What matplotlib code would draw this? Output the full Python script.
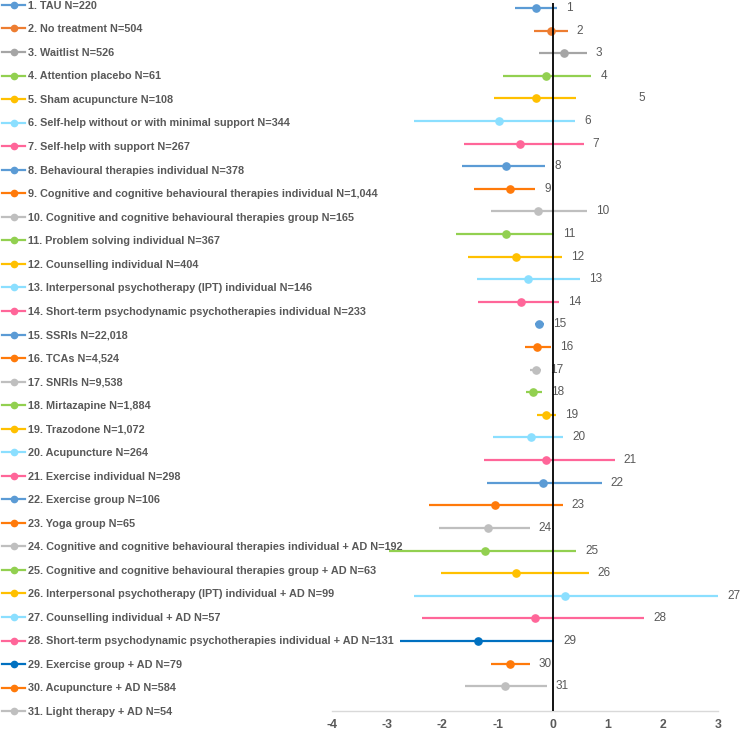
"""Forest plot: effect sizes with 95% intervals per treatment arm."""

import matplotlib
matplotlib.use("Agg")
import matplotlib.pyplot as plt
from matplotlib.lines import Line2D

plt.rcParams["font.family"] = ["Liberation Sans", "DejaVu Sans"]

labels = [
    "1. TAU N=220",
    "2. No treatment N=504",
    "3. Waitlist N=526",
    "4. Attention placebo N=61",
    "5. Sham acupuncture N=108",
    "6. Self-help without or with minimal support N=344",
    "7. Self-help with support N=267",
    "8. Behavioural therapies individual N=378",
    "9. Cognitive and cognitive behavioural therapies individual N=1,044",
    "10. Cognitive and cognitive behavioural therapies group N=165",
    "11. Problem solving individual N=367",
    "12. Counselling individual N=404",
    "13. Interpersonal psychotherapy (IPT) individual N=146",
    "14. Short-term psychodynamic psychotherapies individual N=233",
    "15. SSRIs N=22,018",
    "16. TCAs N=4,524",
    "17. SNRIs N=9,538",
    "18. Mirtazapine N=1,884",
    "19. Trazodone N=1,072",
    "20. Acupuncture N=264",
    "21. Exercise individual N=298",
    "22. Exercise group N=106",
    "23. Yoga group N=65",
    "24. Cognitive and cognitive behavioural therapies individual + AD N=192",
    "25. Cognitive and cognitive behavioural therapies group + AD N=63",
    "26. Interpersonal psychotherapy (IPT) individual + AD N=99",
    "27. Counselling individual + AD N=57",
    "28. Short-term psychodynamic psychotherapies individual + AD N=131",
    "29. Exercise group + AD N=79",
    "30. Acupuncture + AD N=584",
    "31. Light therapy + AD N=54",
]

estimate = [-0.30, -0.04, 0.20, -0.12, -0.31, -0.97, -0.59, -0.85, -0.77, -0.26,
            -0.85, -0.66, -0.45, -0.57, -0.24, -0.29, -0.31, -0.35, -0.12, -0.40,
            -0.12, -0.18, -1.04, -1.17, -1.23, -0.66, 0.22, -0.33, -1.36, -0.78,
            -0.86]
lower = [-0.68, -0.34, -0.24, -0.91, -1.07, -2.52, -1.61, -1.65, -1.42, -1.12,
         -1.76, -1.54, -1.37, -1.36, -0.32, -0.51, -0.42, -0.48, -0.29, -1.09,
         -1.24, -1.20, -2.25, -2.07, -2.96, -2.02, -2.52, -2.37, -2.76, -1.12,
         -1.59]
upper = [0.08, 0.27, 0.62, 0.70, 0.42, 0.41, 0.56, -0.14, -0.32, 0.62,
         0.02, 0.17, 0.49, 0.12, -0.15, -0.03, -0.21, -0.20, 0.06, 0.19,
         1.12, 0.89, 0.18, -0.42, 0.42, 0.65, 3.05, 1.66, 0.03, -0.42,
         -0.11]

colors = ["#5B9BD5", "#ED7D31", "#A5A5A5", "#92D050", "#FFC000", "#8BDFFF", "#FF6699",
          "#5B9BD5", "#FF7A0A", "#BFBFBF", "#92D050", "#FFC000", "#8BDFFF", "#FF6699",
          "#5B9BD5", "#FF7A0A", "#BFBFBF", "#92D050", "#FFC000", "#8BDFFF", "#FF6699",
          "#5B9BD5", "#FF7A0A", "#BFBFBF", "#92D050", "#FFC000", "#8BDFFF", "#FF6699",
          "#0070C0", "#FF7A0A", "#BFBFBF"]

x_ticks = [-4, -3, -2, -1, 0, 1, 2, 3]

# number label for row 5 sits well out to the right in the original
label_x_override = {5: 1.55}

TEXT = "#595959"

fig = plt.figure(figsize=(7.4, 7.31), dpi=100)
ax = fig.add_axes([332 / 740, 1 - 711 / 731, (718.3 - 332) / 740, (711 - 3) / 731])

handles = []
for i, (est, lo, hi, c) in enumerate(zip(estimate, lower, upper, colors)):
    row = i + 1
    ax.errorbar(est, row, xerr=[[est - lo], [hi - est]], fmt="o", color=c,
                ms=5.2, elinewidth=1.6, capsize=0, clip_on=True, zorder=3)
    if row in label_x_override:
        ax.text(label_x_override[row], row, str(row), color=TEXT, fontsize=8.5,
                va="center", ha="left")
    else:
        ax.annotate(str(row), (min(hi, 3.0), row), xytext=(6.5, 0),
                    textcoords="offset points", color=TEXT, fontsize=8.5,
                    va="center", ha="left", annotation_clip=False)
    handles.append(Line2D([0], [0], color=c, lw=1.6, marker="o", ms=4.5))

ax.axvline(0, color="black", lw=1.3, zorder=4)

ax.set_xlim(-4, 3)
ax.set_ylim(32.1, 0.78)
ax.set_xticks(x_ticks)
ax.set_xticklabels([str(t) for t in x_ticks], fontweight="bold", color=TEXT, fontsize=8.8)
ax.tick_params(axis="x", length=0, pad=6)
ax.set_yticks([])
for side in ["top", "right", "left"]:
    ax.spines[side].set_visible(False)
ax.spines["bottom"].set_color("#D9D9D9")
ax.spines["bottom"].set_linewidth(1.0)

leg = fig.legend(handles, labels, loc="upper left", bbox_to_anchor=(0.003, 0.999),
                 frameon=False, numpoints=1, handlelength=2.1, handletextpad=0.3,
                 borderpad=0, borderaxespad=0, labelspacing=1.25,
                 prop={"size": 7.8, "weight": "bold"})
for t in leg.get_texts():
    t.set_color(TEXT)

fig.savefig("out.png", dpi=100)
plt.close(fig)
